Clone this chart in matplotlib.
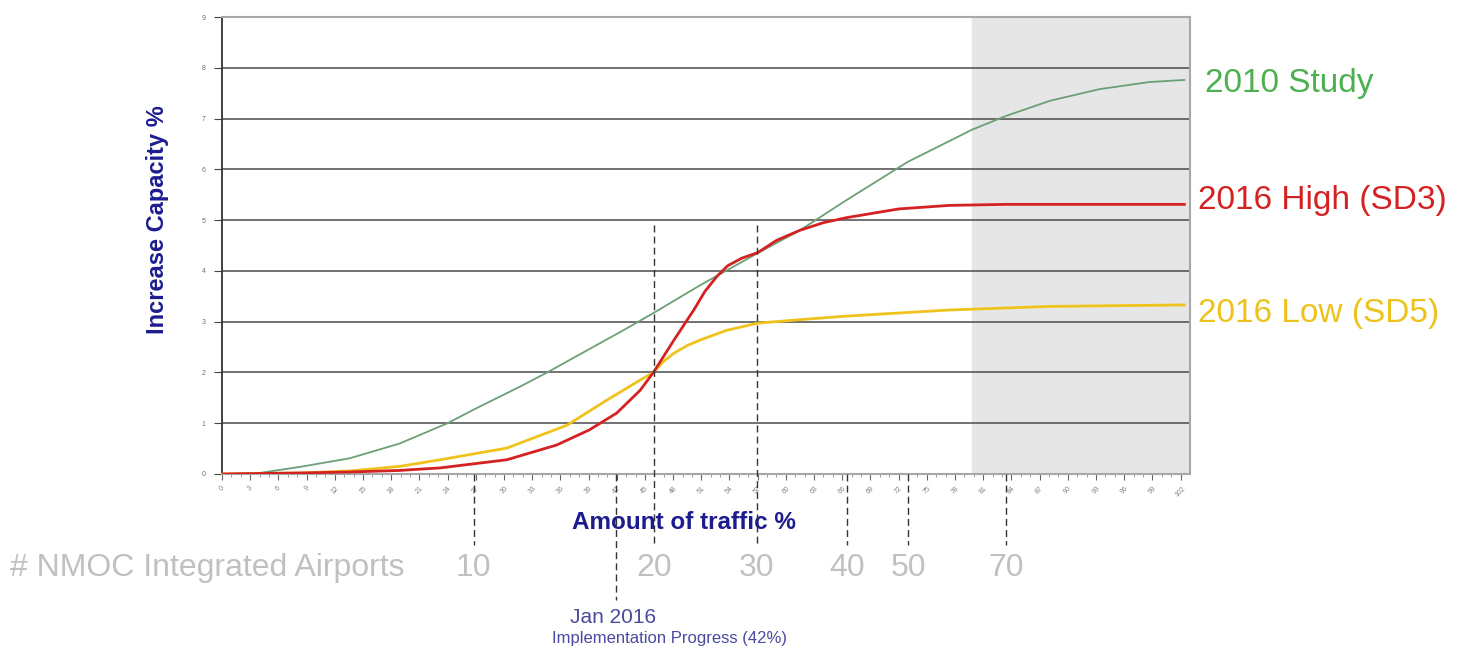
import matplotlib.pyplot as plt
import numpy as np

# traffic % (x) vs increase capacity % (y)
study_x = [0, 4.0, 8.3, 13.6, 18.9, 24.0, 26.8, 31.7, 34.6, 38.5, 42.7, 46.0, 50.9, 57.0,
           61.5, 66.5, 73.0, 79.8, 83.4, 88.1, 93.4, 98.7, 102.4]
study_y = [0, 0.02, 0.14, 0.31, 0.6, 1.0, 1.27, 1.72, 2.0, 2.4, 2.83, 3.18, 3.72, 4.35,
           4.8, 5.4, 6.15, 6.78, 7.05, 7.35, 7.58, 7.72, 7.76]

high_x = [0, 8.3, 13.6, 18.9, 23.2, 30.3, 35.6, 39.1, 42.0, 44.5, 45.9, 47.0, 48.1, 49.2,
          50.2, 51.4, 52.7, 53.8, 55.3, 57.0, 59.0, 61.5, 64.0, 66.5, 72.0, 77.4, 83.4,
          102.4]
high_y = [0, 0.02, 0.04, 0.07, 0.12, 0.28, 0.57, 0.87, 1.2, 1.65, 2.0, 2.32, 2.64, 2.95,
          3.23, 3.6, 3.9, 4.1, 4.25, 4.36, 4.6, 4.8, 4.95, 5.05, 5.22, 5.29, 5.31, 5.31]

low_x = [0, 8.3, 13.6, 18.9, 23.2, 30.3, 36.7, 41.0, 44.5, 45.9, 47.0, 48.1, 49.5, 50.9,
         53.7, 57.0, 61.5, 66.5, 77.4, 88.0, 102.4]
low_y = [0, 0.02, 0.06, 0.15, 0.28, 0.51, 0.96, 1.46, 1.85, 2.0, 2.22, 2.38, 2.53, 2.64,
         2.83, 2.97, 3.04, 3.11, 3.23, 3.3, 3.33]

# dashed markers: (x, y_top, y_bottom)
marker_x = [26.8, 41.9, 46.0, 56.9, 66.5, 73.0, 83.4]
marker_top = [0, 0, 4.9, 4.9, 0, 0, 0]
marker_bottom = [-1.4, -2.48, -1.4, -1.4, -1.4, -1.4, -1.4]

airport_labels = ["10", "20", "30", "40", "50", "70"]
airport_x = [26.8, 46.0, 56.9, 66.5, 73.0, 83.4]

plt.rcParams['font.family'] = ['Liberation Sans', 'DejaVu Sans']

fig = plt.figure(figsize=(14.64, 6.57), dpi=100)
ax = fig.add_axes([222 / 1464, 1 - 474 / 657, 968 / 1464, 457 / 657])

ax.set_xlim(0, 103)
ax.set_ylim(0, 9)

# shaded future region
ax.axvspan(79.8, 103, color='#e6e6e6', zorder=0)

for v in range(1, 9):
    ax.axhline(v, color='#4a4a4a', lw=1.1, zorder=1)

ax.plot(study_x, study_y, color='#6b9f74', lw=1.3, zorder=3)
ax.plot(high_x, high_y, color='#d42121', lw=2.0, zorder=4)
ax.plot(low_x, low_y, color='#f0c31c', lw=2.0, zorder=3)

for mx, top, bot in zip(marker_x, marker_top, marker_bottom):
    ax.plot([mx, mx], [top, bot], color='#333333', lw=1.0, ls=(0, (5, 3)),
            clip_on=False, zorder=5)

# ticks
ax.set_yticks(range(0, 10))
ax.set_yticklabels([str(v) for v in range(0, 10)], fontsize=5, color='#707070')
ax.set_xticks(np.arange(0, 103, 3))
ax.set_xticklabels([str(v) for v in range(0, 103, 3)], fontsize=5, color='#808080',
                   rotation=45)
ax.set_xticks(np.arange(0, 103, 1), minor=True)
ax.tick_params(axis='x', which='major', length=4, color='#666666', pad=4)
ax.tick_params(axis='x', which='minor', length=2, color='#888888')
ax.tick_params(axis='y', length=6, color='#444444', pad=6)

for side in ['top', 'right', 'bottom']:
    ax.spines[side].set_color('#a8a8a8')
    ax.spines[side].set_linewidth(1.5)
ax.spines['left'].set_color('#333333')
ax.spines['left'].set_linewidth(1.3)

navy = '#1c1c8f'
ax.text(-0.067, 0.556, 'Increase Capacity %', transform=ax.transAxes, rotation=90,
        fontsize=17, fontweight='bold', color=navy, ha='center', va='center')
ax.text(0.477, -0.107, 'Amount of traffic %', transform=ax.transAxes, fontsize=17.5,
        fontweight='bold', color=navy, ha='center', va='center')

# airports row
gray = '#c0c0c0'
fig.text(10 / 1464, 1 - 568 / 657, '# NMOC Integrated Airports', fontsize=23,
         color=gray, ha='left', va='center')
trans = ax.get_xaxis_transform()
for lab, xv in zip(airport_labels, airport_x):
    ax.text(xv, -0.206, lab, transform=trans, fontsize=23, color=gray,
            ha='center', va='center')

ax.text(41.6, -0.315, 'Jan 2016', transform=trans, fontsize=15, color='#4a4aa0',
        ha='center', va='center')
ax.text(47.6, -0.359, 'Implementation Progress (42%)', transform=trans, fontsize=12,
        color='#4a4aa0', ha='center', va='center')

# series labels on the right
ytrans = ax.get_yaxis_transform()
ax.text(1.016, 7.7, '2010 Study', transform=ytrans, fontsize=24, color='#4cb050',
        ha='left', va='center')
ax.text(1.008, 5.39, '2016 High (SD3)', transform=ytrans, fontsize=24, color='#d42121',
        ha='left', va='center')
ax.text(1.008, 3.16, '2016 Low (SD5)', transform=ytrans, fontsize=24, color='#ecc21c',
        ha='left', va='center')

fig.savefig('out.png', dpi=100, facecolor='white')
